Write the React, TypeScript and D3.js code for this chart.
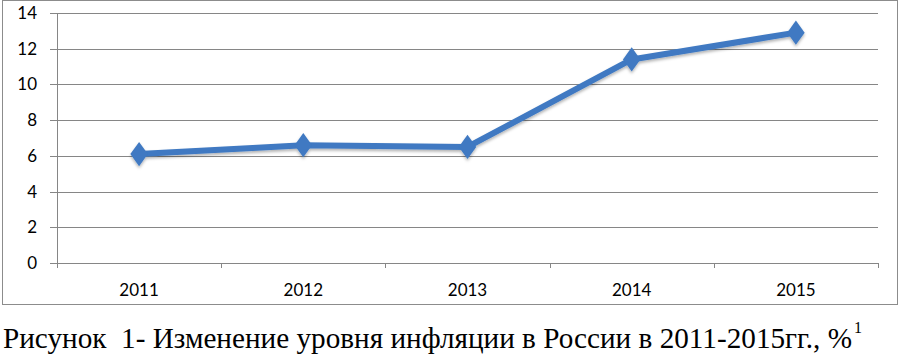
import React, { useEffect, useRef } from "react";
import * as d3 from "d3";

const YEARS = ["2011", "2012", "2013", "2014", "2015"];
const INFLATION = [6.1, 6.6, 6.5, 11.4, 12.9];
const Y_TICKS = [0, 2, 4, 6, 8, 10, 12, 14];
const CAPTION = "Рисунок  1- Изменение уровня инфляции в России в 2011-2015гг., %";

export default function App() {
  const ref = useRef<SVGSVGElement>(null);

  useEffect(() => {
    const W = 900;
    const H = 355;
    const M = { top: 13, right: 22, bottom: 92, left: 57 };
    const iw = W - M.left - M.right;
    const ih = H - M.top - M.bottom;

    const x = d3.scaleBand().domain(YEARS).range([0, iw]);
    const y = d3.scaleLinear().domain([0, 14]).range([ih, 0]);

    const svg = d3.select(ref.current!);
    svg.selectAll("*").remove();

    // shadow filter for line + markers
    const defs = svg.append("defs");
    const f = defs.append("filter").attr("id", "sh").attr("x", "-20%").attr("y", "-20%").attr("width", "140%").attr("height", "160%");
    f.append("feDropShadow").attr("dx", 0).attr("dy", 2).attr("stdDeviation", 1.5).attr("flood-color", "#000").attr("flood-opacity", 0.3);

    // outer frame
    svg.append("rect")
      .attr("x", 2.5).attr("y", 0.5)
      .attr("width", 895).attr("height", 304)
      .attr("fill", "#fff").attr("stroke", "#8c8c8c").attr("stroke-width", 1);

    const g = svg.append("g").attr("transform", `translate(${M.left},${M.top})`);

    // gridlines
    g.append("g").selectAll("line").data(Y_TICKS).enter().append("line")
      .attr("x1", -7).attr("x2", iw)
      .attr("y1", (d) => Math.round(y(d)) + 0.5).attr("y2", (d) => Math.round(y(d)) + 0.5)
      .attr("stroke", "#868686").attr("stroke-width", 1);

    // y axis line
    g.append("line").attr("x1", 0.5).attr("x2", 0.5).attr("y1", 0).attr("y2", ih + 5)
      .attr("stroke", "#868686");

    // x ticks at category boundaries
    const bounds = YEARS.map((d) => x(d)!).concat([iw]);
    g.append("g").selectAll("line").data(bounds).enter().append("line")
      .attr("x1", (d) => Math.round(d) + 0.5).attr("x2", (d) => Math.round(d) + 0.5)
      .attr("y1", ih).attr("y2", ih + 5)
      .attr("stroke", "#868686");

    // y labels
    g.append("g").selectAll("text").data(Y_TICKS).enter().append("text")
      .attr("x", -20).attr("y", (d) => y(d)).attr("dy", "0.35em")
      .attr("text-anchor", "end")
      .attr("fill", "#000")
      .attr("font-family", "Lato, 'Open Sans', sans-serif")
      .attr("font-size", 17)
      .text((d) => d);

    // x labels
    g.append("g").selectAll("text").data(YEARS).enter().append("text")
      .attr("x", (d) => x(d)! + x.bandwidth() / 2).attr("y", ih + 33)
      .attr("text-anchor", "middle")
      .attr("fill", "#000")
      .attr("font-family", "Lato, 'Open Sans', sans-serif")
      .attr("font-size", 17)
      .text((d) => d);

    const pts = YEARS.map((d, i) => ({ year: d, v: INFLATION[i] }));
    const line = d3.line<{ year: string; v: number }>()
      .x((d) => x(d.year)! + x.bandwidth() / 2)
      .y((d) => y(d.v));

    const series = g.append("g").attr("filter", "url(#sh)");
    series.append("path").datum(pts).attr("d", line)
      .attr("fill", "none").attr("stroke", "#3f79c2").attr("stroke-width", 6)
      .attr("stroke-linejoin", "round");

    const sym = d3.symbol().type(d3.symbolDiamond).size(170);
    series.selectAll("path.m").data(pts).enter().append("path")
      .attr("class", "m")
      .attr("d", sym)
      .attr("transform", (d) => `translate(${x(d.year)! + x.bandwidth() / 2},${y(d.v)}) scale(1.25,1)`)
      .attr("fill", "#3f79c2");

    // caption
    svg.append("text")
      .attr("x", 3).attr("y", 348)
      .attr("fill", "#000")
      .attr("textLength", 849)
      .attr("lengthAdjust", "spacingAndGlyphs")
      .attr("font-family", "Liberation Serif, serif")
      .attr("font-size", 29)
      .style("white-space", "pre")
      .text(CAPTION);
    svg.append("text")
      .attr("x", 854).attr("y", 333)
      .attr("fill", "#000")
      .attr("font-family", "Liberation Serif, serif")
      .attr("font-size", 16)
      .text("1");
  }, []);

  return (
    <svg ref={ref} width={900} height={355} style={{ position: "absolute", left: 0, top: 0, background: "#fff" }} />
  );
}
